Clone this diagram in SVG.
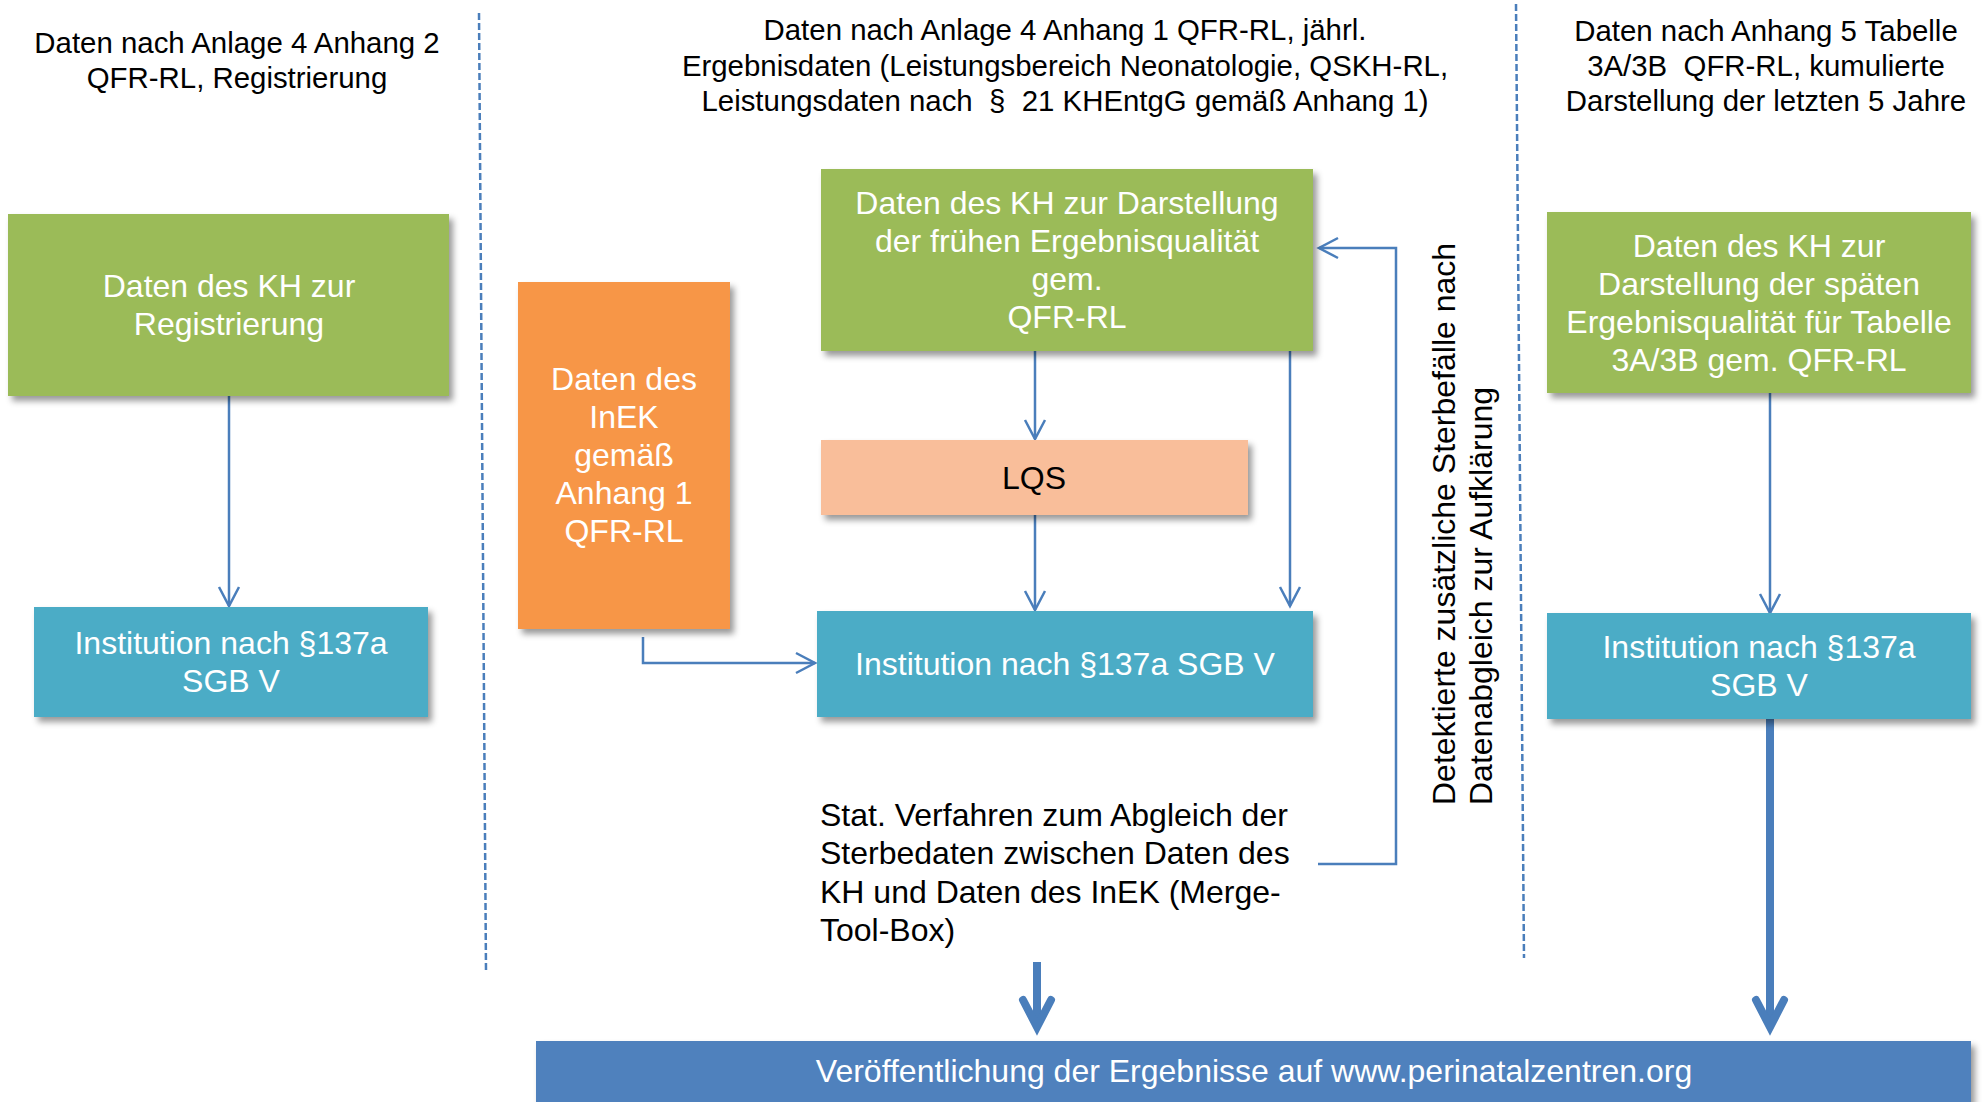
<svg xmlns="http://www.w3.org/2000/svg" width="1983" height="1102" viewBox="0 0 1983 1102">
  <defs>
    <filter id="shadow" x="-5%" y="-5%" width="115%" height="125%">
      <feDropShadow dx="4" dy="5" stdDeviation="3" flood-color="#000" flood-opacity="0.4"/>
    </filter>
    <marker id="open-arrow" markerUnits="userSpaceOnUse" markerWidth="26" markerHeight="26" refX="22" refY="13" orient="auto">
      <path d="M3,3 L22,13 L3,23" fill="none" stroke="#4A7EBB" stroke-width="2.5"/>
    </marker>
    <style>
      text { font-family: "Liberation Sans", Arial, sans-serif; }
      .hdr { font-size: 29.4px; fill: #000; text-anchor: middle; white-space: pre; }
      .lbl { font-size: 32px; fill: #fff; text-anchor: middle; }
      .dark { fill: #000; }
      .note { font-size: 32px; fill: #000; }
      .green { fill: #9BBB59; filter: url(#shadow); }
      .aqua { fill: #4BACC6; filter: url(#shadow); }
      .orange { fill: #F79646; filter: url(#shadow); }
      .peach { fill: #F9BE9A; filter: url(#shadow); }
      .bar { fill: #4F81BD; filter: url(#shadow); }
      .conn { fill: none; stroke: #4A7EBB; stroke-width: 2.5; }
      .thick { fill: none; stroke: #4A7EBB; stroke-width: 8; }
      .chev { fill: none; stroke: #4A7EBB; stroke-width: 8; stroke-linecap: round; stroke-linejoin: miter; }
      .divider { fill: none; stroke: #4A7EBB; stroke-width: 2.5; stroke-dasharray: 7 3; }
    </style>
  </defs>

  <!-- column headings -->
  <g id="headings">
    <text class="hdr" x="237" y="53">Daten nach Anlage 4 Anhang 2</text>
    <text class="hdr" x="237" y="88">QFR-RL, Registrierung</text>
    <text class="hdr" x="1065" y="40">Daten nach Anlage 4 Anhang 1 QFR-RL, jährl.</text>
    <text class="hdr" x="1065" y="76">Ergebnisdaten (Leistungsbereich Neonatologie, QSKH-RL,</text>
    <text class="hdr" x="1065" y="111" xml:space="preserve">Leistungsdaten nach  §  21 KHEntgG gemäß Anhang 1)</text>
    <text class="hdr" x="1766" y="41">Daten nach Anhang 5 Tabelle</text>
    <text class="hdr" x="1766" y="76" xml:space="preserve">3A/3B  QFR-RL, kumulierte</text>
    <text class="hdr" x="1766" y="111">Darstellung der letzten 5 Jahre</text>
  </g>

  <!-- column dividers -->
  <g id="dividers">
    <line class="divider" x1="479" y1="13" x2="486" y2="971"/>
    <line class="divider" x1="1516" y1="4" x2="1524" y2="958"/>
  </g>

  <!-- connectors -->
  <g id="connectors">
    <path class="conn" d="M229,396 V606" marker-end="url(#open-arrow)"/>
    <path class="conn" d="M1035,351 V439" marker-end="url(#open-arrow)"/>
    <path class="conn" d="M1035,515 V610" marker-end="url(#open-arrow)"/>
    <path class="conn" d="M1290,351 V606" marker-end="url(#open-arrow)"/>
    <path class="conn" d="M643,637 V663 H815" marker-end="url(#open-arrow)"/>
    <path class="conn" d="M1318,864 H1396 V248 H1319" marker-end="url(#open-arrow)"/>
    <path class="conn" d="M1770,393 V613" marker-end="url(#open-arrow)"/>
    <!-- heavy arrows into the publication bar -->
    <line class="thick" x1="1037" y1="962" x2="1037" y2="1025"/>
    <path class="chev" d="M1023,1000 L1037,1027 L1051,1000"/>
    <line class="thick" x1="1770" y1="719" x2="1770" y2="1025"/>
    <path class="chev" d="M1756,1000 L1770,1027 L1784,1000"/>
  </g>

  <g id="kh-registrierung">
    <rect class="green" x="8" y="214" width="441" height="182"/>
    <text class="lbl" x="229" y="297">Daten des KH zur</text>
    <text class="lbl" x="229" y="335">Registrierung</text>
  </g>

  <g id="institution-left">
    <rect class="aqua" x="34" y="607" width="394" height="110"/>
    <text class="lbl" x="231" y="654">Institution nach §137a</text>
    <text class="lbl" x="231" y="692">SGB V</text>
  </g>

  <g id="inek">
    <rect class="orange" x="518" y="282" width="212" height="347"/>
    <text class="lbl" x="624" y="390">Daten des</text>
    <text class="lbl" x="624" y="428">InEK</text>
    <text class="lbl" x="624" y="466">gemäß</text>
    <text class="lbl" x="624" y="504">Anhang 1</text>
    <text class="lbl" x="624" y="542">QFR-RL</text>
  </g>

  <g id="kh-fruehe-ergebnisqualitaet">
    <rect class="green" x="821" y="169" width="492" height="182"/>
    <text class="lbl" x="1067" y="214">Daten des KH zur Darstellung</text>
    <text class="lbl" x="1067" y="252">der frühen Ergebnisqualität</text>
    <text class="lbl" x="1067" y="290">gem.</text>
    <text class="lbl" x="1067" y="328">QFR-RL</text>
  </g>

  <g id="lqs">
    <rect class="peach" x="821" y="440" width="427" height="75"/>
    <text class="lbl dark" x="1034" y="489">LQS</text>
  </g>

  <g id="institution-middle">
    <rect class="aqua" x="817" y="611" width="496" height="106"/>
    <text class="lbl" x="1065" y="675">Institution nach §137a SGB V</text>
  </g>

  <g id="merge-toolbox">
    <text class="note" x="820" y="826">Stat. Verfahren zum Abgleich der</text>
    <text class="note" x="820" y="864">Sterbedaten zwischen Daten des</text>
    <text class="note" x="820" y="903">KH und Daten des InEK (Merge-</text>
    <text class="note" x="820" y="941">Tool-Box)</text>
  </g>

  <g id="sterbefaelle-hinweis">
    <text class="note" transform="translate(1455,805) rotate(-90)">Detektierte zusätzliche Sterbefälle nach</text>
    <text class="note" transform="translate(1492,805) rotate(-90)">Datenabgleich zur Aufklärung</text>
  </g>

  <g id="kh-spaete-ergebnisqualitaet">
    <rect class="green" x="1547" y="212" width="424" height="181"/>
    <text class="lbl" x="1759" y="257">Daten des KH zur</text>
    <text class="lbl" x="1759" y="295">Darstellung der späten</text>
    <text class="lbl" x="1759" y="333">Ergebnisqualität für Tabelle</text>
    <text class="lbl" x="1759" y="371">3A/3B gem. QFR-RL</text>
  </g>

  <g id="institution-right">
    <rect class="aqua" x="1547" y="613" width="424" height="106"/>
    <text class="lbl" x="1759" y="658">Institution nach §137a</text>
    <text class="lbl" x="1759" y="696">SGB V</text>
  </g>

  <g id="veroeffentlichung">
    <rect class="bar" x="536" y="1041" width="1435" height="80"/>
    <text class="lbl" x="1254" y="1082">Veröffentlichung der Ergebnisse auf www.perinatalzentren.org</text>
  </g>
</svg>
